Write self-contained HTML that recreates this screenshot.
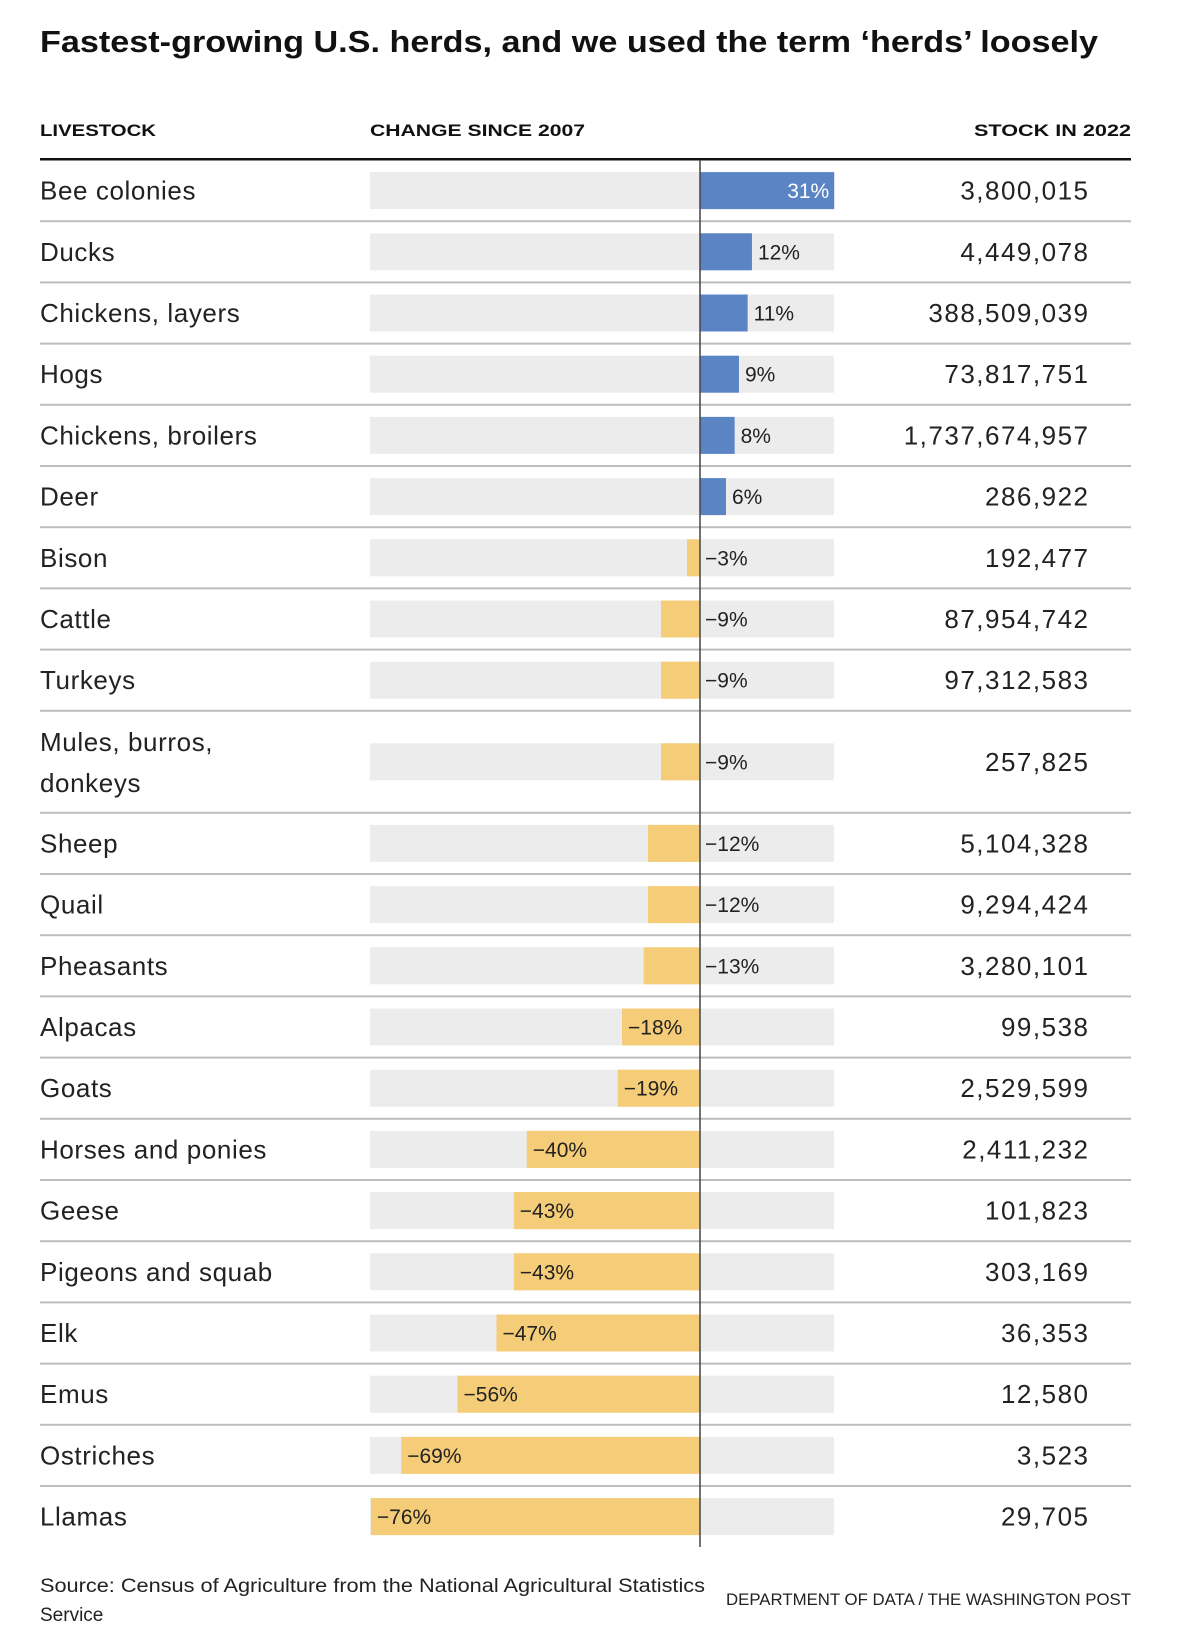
<!DOCTYPE html>
<html><head><meta charset="utf-8">
<style>
html,body{margin:0;padding:0;background:#fff;}
svg{display:block;font-family:"Liberation Sans",sans-serif;}
</style></head>
<body>
<svg id="chart" width="1180" height="1648" viewBox="0 0 1180 1648" xmlns="http://www.w3.org/2000/svg">
  <text x="40" y="52" font-size="31" font-weight="bold" fill="#111" textLength="1058" lengthAdjust="spacingAndGlyphs">Fastest-growing U.S. herds, and we used the term ‘herds’ loosely</text>
  <text x="40" y="136" font-size="17" font-weight="bold" fill="#111" textLength="116" lengthAdjust="spacingAndGlyphs">LIVESTOCK</text>
  <text x="370" y="136" font-size="17" font-weight="bold" fill="#111" textLength="215" lengthAdjust="spacingAndGlyphs">CHANGE SINCE 2007</text>
  <text x="1131" y="136" font-size="17" font-weight="bold" fill="#111" text-anchor="end" textLength="157" lengthAdjust="spacingAndGlyphs">STOCK IN 2022</text>
  <rect x="40" y="158" width="1091" height="2.5" fill="#111"/>
  <g id="rows"></g>
  <text x="40" y="1592" font-size="19" fill="#222" textLength="665" lengthAdjust="spacingAndGlyphs">Source: Census of Agriculture from the National Agricultural Statistics</text>
  <text x="40" y="1621" font-size="19" fill="#222">Service</text>
  <text x="1131" y="1605" font-size="17" fill="#222" text-anchor="end" textLength="405" lengthAdjust="spacingAndGlyphs">DEPARTMENT OF DATA / THE WASHINGTON POST</text>
</svg>
<script>
const categories = ["Bee colonies","Ducks","Chickens, layers","Hogs","Chickens, broilers","Deer","Bison","Cattle","Turkeys","Mules, burros,|donkeys","Sheep","Quail","Pheasants","Alpacas","Goats","Horses and ponies","Geese","Pigeons and squab","Elk","Emus","Ostriches","Llamas"];
const changeValues = [31,12,11,9,8,6,-3,-9,-9,-9,-12,-12,-13,-18,-19,-40,-43,-43,-47,-56,-69,-76];
const changeLabels = ["31%","12%","11%","9%","8%","6%","−3%","−9%","−9%","−9%","−12%","−12%","−13%","−18%","−19%","−40%","−43%","−43%","−47%","−56%","−69%","−76%"];
const stockValues = ["3,800,015","4,449,078","388,509,039","73,817,751","1,737,674,957","286,922","192,477","87,954,742","97,312,583","257,825","5,104,328","9,294,424","3,280,101","99,538","2,529,599","2,411,232","101,823","303,169","36,353","12,580","3,523","29,705"];

const NS = "http://www.w3.org/2000/svg";
const g = document.getElementById("rows");
const x0 = 700, pxPer = 4.33, bgL = 370, bgR = 834;
const xScale = v => x0 + v * pxPer;
function mk(tag, attrs, parent){ const e=document.createElementNS(NS,tag); for(const k in attrs) e.setAttribute(k,attrs[k]); parent.appendChild(e); return e; }

let y = 160;
categories.forEach((cat, i) => {
  const lines = cat.split("|");
  const h = lines.length > 1 ? 102 : 61.2;
  const cy = y + h/2;
  const row = mk("g", {}, g);
  
  
  const bg = mk("rect", {x:bgL, y:cy-18.5, width:bgR-bgL, height:37, fill:"#ececec"}, row);
  
  
  const v = changeValues[i];
  const xa = Math.min(xScale(0), xScale(v)), xb = Math.max(xScale(0), xScale(v));
  const bar = mk("rect", {x:xa, y:cy-18.5, width:xb-xa, height:37, fill: v>=0 ? "#5b84c4" : "#f5cc77"}, row);
  
  
  let lx, anchor, col = "#222";
  if (v >= 25) { lx = xScale(v) - 5; anchor = "end"; col = "#fff"; }
  else if (v >= 0) { lx = xScale(v) + 6; anchor = "start"; }
  else if (v > -15) { lx = x0 + 5; anchor = "start"; }
  else { lx = xScale(v) + 6; anchor = "start"; }
  const vl = mk("text", {x:lx, y:cy+7.5, "font-size":21, fill:col, "text-anchor":anchor}, row);
  vl.textContent = changeLabels[i];
  
  
  lines.forEach((ln, k) => {
    const ty = lines.length > 1 ? y + 40 + k*41 : cy + 9;
    const t = mk("text", {x:40, y:ty, "font-size":26, "letter-spacing":0.6, fill:"#222"}, row);
    t.textContent = ln;
    
    
  });
  const st = mk("text", {x:1089.5, y:cy+9, "font-size":26, "letter-spacing":1.5, fill:"#222", "text-anchor":"end"}, row);
  st.textContent = stockValues[i];
  
  
  y += h;
  if (i < categories.length - 1) {
    const sep = mk("rect", {x:40, y:y-1, width:1091, height:2, fill:"#bdbdbd"}, row);
    
    
  }
});
const axis = mk("rect", {x:x0-0.75, y:160, width:1.5, height:1547-160, fill:"#444"}, g);


</script>
</body></html>
